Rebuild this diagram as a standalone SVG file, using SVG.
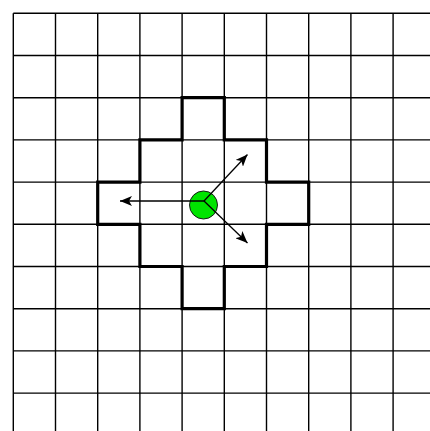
<svg xmlns="http://www.w3.org/2000/svg" width="430" height="431" viewBox="0 0 430 431">
<defs>
<style>
.grid line{stroke:#000;stroke-width:1.4}
.outline{fill:none;stroke:#000;stroke-width:3.2;stroke-linejoin:miter}
.conn{stroke:#000;stroke-width:1.3;fill:none}
</style>
<marker id="ah" viewBox="0 0 12 10" refX="12" refY="5" markerWidth="12" markerHeight="10" markerUnits="userSpaceOnUse" orient="auto">
<path d="M0,0 L12,5 L0,10 L3,5 Z" fill="#000"/>
</marker>
</defs>
<rect width="430" height="431" fill="#fff"/>
<g id="grid" class="grid">
<line x1="13.3" y1="13.3" x2="13.3" y2="431"/>
<line x1="55.5" y1="13.3" x2="55.5" y2="431"/>
<line x1="97.7" y1="13.3" x2="97.7" y2="431"/>
<line x1="139.9" y1="13.3" x2="139.9" y2="431"/>
<line x1="182.1" y1="13.3" x2="182.1" y2="431"/>
<line x1="224.3" y1="13.3" x2="224.3" y2="431"/>
<line x1="266.5" y1="13.3" x2="266.5" y2="431"/>
<line x1="308.7" y1="13.3" x2="308.7" y2="431"/>
<line x1="350.9" y1="13.3" x2="350.9" y2="431"/>
<line x1="393.1" y1="13.3" x2="393.1" y2="431"/>
<line x1="13.3" y1="13.3" x2="430" y2="13.3"/>
<line x1="13.3" y1="55.5" x2="430" y2="55.5"/>
<line x1="13.3" y1="97.7" x2="430" y2="97.7"/>
<line x1="13.3" y1="139.9" x2="430" y2="139.9"/>
<line x1="13.3" y1="182.1" x2="430" y2="182.1"/>
<line x1="13.3" y1="224.3" x2="430" y2="224.3"/>
<line x1="13.3" y1="266.5" x2="430" y2="266.5"/>
<line x1="13.3" y1="308.7" x2="430" y2="308.7"/>
<line x1="13.3" y1="350.9" x2="430" y2="350.9"/>
<line x1="13.3" y1="393.1" x2="430" y2="393.1"/>
</g>
<g id="region">
<path class="outline" d="M182.1,97.7 H224.3 V139.9 H266.5 V182.1 H308.7 V224.3 H266.5 V266.5 H224.3 V308.7 H182.1 V266.5 H139.9 V224.3 H97.7 V182.1 H139.9 V139.9 H182.1 Z"/>
</g>
<g id="agent">
<circle cx="203.5" cy="205" r="14" fill="#00e400" stroke="#1a1a1a" stroke-width="1"/>
</g>
<g id="connectors">
<line class="conn" x1="204" y1="201" x2="120" y2="201" marker-end="url(#ah)"/>
<line class="conn" x1="204" y1="201" x2="247.5" y2="154.5" marker-end="url(#ah)"/>
<line class="conn" x1="204" y1="201" x2="247.5" y2="243" marker-end="url(#ah)"/>
</g>
</svg>
